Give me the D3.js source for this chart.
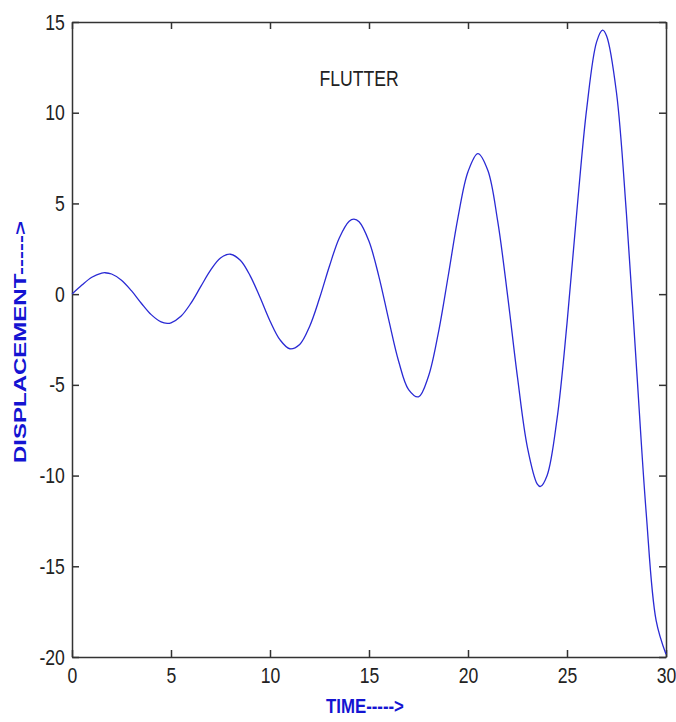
<!DOCTYPE html>
<html lang="en">
  <head>
    <meta charset="UTF-8">
    <title>Flutter</title>
    <style>
      html, body {
        margin: 0;
        padding: 0;
        background: #fff;
      }

      text {
        font-family: "Liberation Sans", Arial, sans-serif;
      }

      .axis path, .axis line {
        stroke: #333;
        stroke-width: 1.5px;
      }

      .axis text {
        font-size: 22px;
        fill: #222;
      }

      .label {
        font-weight: bold;
        fill: #1414d2;
      }
    </style>
  </head>
  <body>
    <svg width="676" height="722"></svg>
    <script src="https://cdn.jsdelivr.net/npm/d3@7"></script>
    <script>

      // time samples (turning points added)
      const time = [
        0, 0.5, 1, 1.5, 1.67, 2, 2.5, 3, 3.5, 4, 4.5, 4.81, 5, 5.5, 6, 6.5, 7, 7.5, 8,
        8.5, 9, 9.5, 10, 10.5, 11, 11.5, 12, 12.5, 13, 13.5, 14, 14.24, 14.5, 15,
        15.5, 16, 16.5, 17, 17.5, 18, 18.5, 19, 19.5, 20, 20.5, 21, 21.5, 22,
        22.5, 23, 23.5, 23.66, 24, 24.5, 25, 25.5, 26, 26.5, 26.8, 27, 27.5, 28, 28.5, 29,
        29.5, 30
      ]

      const displacement = [
        0, 0.50, 0.93, 1.16, 1.18, 1.11, 0.77, 0.19, -0.50, -1.13, -1.53, -1.61, -1.58, -1.22, -0.51, 0.41, 1.32, 1.99, 2.20,
        1.87, 1.01, -0.19, -1.48, -2.51, -3.01, -2.77, -1.78, -0.23, 1.54, 3.10, 4.02, 4.13, 3.99, 2.91,
        0.97, -1.43, -3.71, -5.26, -5.66, -4.54, -2.15, 1.00, 4.26, 6.75, 7.75, 6.83, 4.02, -0.08,
        -4.59, -8.44, -10.47, -10.60, -9.98, -6.85, -1.61, 4.60, 10.27, 13.92, 14.55, 14.23, 11.10, 4.46, -3.87, -12.06,
        -17.98, -19.85
      ]

      const xTicks = [0, 5, 10, 15, 20, 25, 30]
      const yTicks = [-20, -15, -10, -5, 0, 5, 10, 15]

      const svg = d3.select('svg')
      const margin = { top: 22, right: 10, bottom: 65, left: 72 }
      const width = 676 - margin.left - margin.right
      const height = 722 - margin.top - margin.bottom

      const g = svg.append('g')
        .attr('transform', 'translate(' + margin.left + ',' + margin.top + ')')

      const x = d3.scaleLinear().domain([0, 30]).range([0, width])
      const y = d3.scaleLinear().domain([-20, 15]).range([height, 0])

      // plain hyphen for negatives, like the original
      const fmt = d => String(d)

      // box with inward ticks, labels only bottom and left
      g.append('g')
        .attr('class', 'axis')
        .attr('transform', 'translate(0,' + height + ')')
        .call(d3.axisBottom(x).tickValues(xTicks).tickFormat(fmt).tickSizeInner(-7).tickSizeOuter(0).tickPadding(10))
        .call(s => s.selectAll('text').attr('transform', 'scale(0.8,1)'))

      g.append('g')
        .attr('class', 'axis')
        .call(d3.axisLeft(y).tickValues(yTicks).tickFormat(fmt).tickSizeInner(-7).tickSizeOuter(0).tickPadding(9))
        .call(s => s.selectAll('text').attr('transform', 'scale(0.8,1)'))

      g.append('g')
        .attr('class', 'axis')
        .call(d3.axisTop(x).tickValues(xTicks).tickSizeInner(-7).tickSizeOuter(0).tickFormat(''))

      g.append('g')
        .attr('class', 'axis')
        .attr('transform', 'translate(' + width + ',0)')
        .call(d3.axisRight(y).tickValues(yTicks).tickSizeInner(-7).tickSizeOuter(0).tickFormat(''))

      // the curve
      const line = d3.line()
        .x((d, i) => x(time[i]))
        .y(d => y(d))
        .curve(d3.curveCatmullRom)

      g.append('path')
        .datum(displacement)
        .attr('fill', 'none')
        .attr('stroke', '#2a2ad4')
        .attr('stroke-width', 1.3)
        .attr('d', line)

      // text in the plot
      g.append('text')
        .attr('transform', 'translate(' + x(14.5) + ',' + (86 - margin.top) + ') scale(0.8,1)')
        .attr('text-anchor', 'middle')
        .style('font-size', '22px')
        .attr('fill', '#222')
        .text('FLUTTER')

      svg.append('text')
        .attr('class', 'label')
        .attr('transform', 'translate(365,713) scale(0.8,1)')
        .attr('text-anchor', 'middle')
        .style('font-size', '21px')
        .text('TIME----->')

      svg.append('text')
        .attr('class', 'label')
        .attr('transform', 'translate(26,342) rotate(-90) scale(1,0.72)')
        .attr('text-anchor', 'middle')
        .style('font-size', '24px')
        .text('DISPLACEMENT----->')

    </script>
  </body>
</html>
